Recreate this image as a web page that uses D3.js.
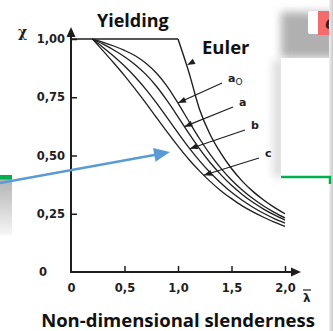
<!DOCTYPE html>
<html>
<head>
<meta charset="utf-8">
<script src="https://cdn.jsdelivr.net/npm/d3@7"></script>
<style>
  html, body { margin: 0; padding: 0; background: #fff; overflow: hidden; }
  svg { display: block; }
</style>
</head>
<body>
<svg id="chart" width="333" height="331"></svg>
<script>
// Buckling reduction factor χ against non-dimensional slenderness λ̄
const slenderness = [0.2, 0.3, 0.4, 0.5, 0.6, 0.7, 0.8, 0.9, 1.0, 1.1, 1.2, 1.3, 1.4, 1.5, 1.6, 1.7, 1.8, 1.9, 2.0];
const curveA0 = [1.000, 0.986, 0.970, 0.951, 0.928, 0.896, 0.853, 0.796, 0.725, 0.648, 0.573, 0.505, 0.446, 0.395, 0.352, 0.315, 0.283, 0.256, 0.232];
const curveA  = [1.000, 0.978, 0.953, 0.924, 0.890, 0.848, 0.796, 0.734, 0.666, 0.596, 0.530, 0.470, 0.418, 0.372, 0.333, 0.299, 0.270, 0.245, 0.223];
const curveB  = [1.000, 0.964, 0.926, 0.884, 0.837, 0.784, 0.725, 0.661, 0.597, 0.535, 0.478, 0.427, 0.382, 0.342, 0.308, 0.278, 0.252, 0.229, 0.210];
const curveC  = [1.000, 0.949, 0.897, 0.843, 0.785, 0.725, 0.662, 0.600, 0.540, 0.484, 0.434, 0.389, 0.349, 0.315, 0.284, 0.258, 0.235, 0.214, 0.196];
const curveNames = ["a0", "a", "b", "c"];

// Euler hyperbola and the yielding plateau
const eulerSlenderness = [1.0, 1.1, 1.2, 1.3, 1.4, 1.5, 1.6, 1.7, 1.8, 1.9, 2.0];
const eulerValues      = [1.000, 0.860, 0.700, 0.590, 0.510, 0.444, 0.390, 0.346, 0.309, 0.277, 0.250];
const yieldSlenderness = [0, 1.0];
const yieldValues      = [1, 1];

// Axis ticks
const xTicks = [0, 0.5, 1.0, 1.5, 2.0];
const xTickLabels = ["0", "0,5", "1,0", "1,5", "2,0"];
const yTicks = [0, 0.25, 0.5, 0.75, 1.0];
const yTickLabels = ["0", "0,25", "0,50", "0,75", "1,00"];

// Slenderness at which each curve's pointer lands
const pointerSlenderness = [1.0, 1.06, 1.11, 1.24];

const svg = d3.select("#chart");
const ink = "#1e1e1e";

// ---------- surrounding slide pieces ----------
const defs = svg.append("defs");
defs.append("filter").attr("id", "soft").attr("x", "-50%").attr("y", "-50%").attr("width", "200%").attr("height", "200%")
  .append("feGaussianBlur").attr("stdDeviation", 4);
const fade = defs.append("linearGradient").attr("id", "fade").attr("x1", 0).attr("y1", 0).attr("x2", 0).attr("y2", 1);
fade.append("stop").attr("offset", 0).attr("stop-color", "#b3b3b3");
fade.append("stop").attr("offset", 1).attr("stop-color", "#f6f6f6");
const edge = defs.append("linearGradient").attr("id", "edge").attr("x1", 0).attr("y1", 0).attr("x2", 1).attr("y2", 0);
edge.append("stop").attr("offset", 0).attr("stop-color", "#f2f2f2");
edge.append("stop").attr("offset", 1).attr("stop-color", "#c8c8c8");

const deco = svg.append("g");
// right-hand panel with shadow
deco.append("rect").attr("x", 281).attr("y", 12).attr("width", 56).attr("height", 46)
  .attr("fill", "#b0b0b0").attr("filter", "url(#soft)");
deco.append("rect").attr("x", 273).attr("y", 60).attr("width", 12).attr("height", 117)
  .attr("fill", "#dcdcdc").attr("filter", "url(#soft)");
deco.append("rect").attr("x", 281).attr("y", 58).attr("width", 52).attr("height", 273).attr("fill", "#fff");
deco.append("rect").attr("x", 308).attr("y", 11).attr("width", 12).attr("height", 23).attr("rx", 2).attr("fill", "#fff");
deco.append("rect").attr("x", 318).attr("y", 11).attr("width", 13).attr("height", 24).attr("fill", "#f36b6b");
deco.append("text").attr("x", 325).attr("y", 29).attr("font-family", "Open Sans, sans-serif")
  .attr("font-style", "italic").attr("font-weight", 700).attr("font-size", 17).attr("fill", "#3a1a1a").text("e");
deco.append("rect").attr("x", 329).attr("y", 0).attr("width", 4).attr("height", 331).attr("fill", "url(#edge)");
deco.append("path").attr("d", "M281,177H330V184").attr("fill", "none").attr("stroke", "#00b050").attr("stroke-width", 2.5);
// left-hand pieces
deco.append("rect").attr("x", 0).attr("y", 179).attr("width", 12).attr("height", 56).attr("fill", "url(#fade)");
deco.append("rect").attr("x", 0).attr("y", 175).attr("width", 12).attr("height", 4.5).attr("fill", "#00b050");

// ---------- chart ----------
const x = d3.scaleLinear().domain([0, 2]).range([71, 285]);
const y = d3.scaleLinear().domain([0, 1]).range([272, 39]);

const line = d3.line().x(d => x(d[0])).y(d => y(d[1])).curve(d3.curveMonotoneX);

// axes
const gx = svg.append("g").attr("transform", `translate(0,${y(0)})`)
  .call(d3.axisBottom(x).tickValues(xTicks).tickSizeInner(-6).tickSizeOuter(0).tickPadding(12)
    .tickFormat((d, i) => xTickLabels[i]));
const gy = svg.append("g").attr("transform", `translate(${x(0)},0)`)
  .call(d3.axisLeft(y).tickValues(yTicks).tickSizeInner(-6).tickSizeOuter(0).tickPadding(6)
    .tickFormat((d, i) => yTickLabels[i]));
[gx, gy].forEach(g => {
  g.select(".domain").remove();
  g.selectAll(".tick line").attr("stroke", ink).attr("stroke-width", 1.5);
  g.selectAll(".tick text").attr("fill", ink).attr("font-family", "DejaVu Sans, sans-serif")
    .attr("font-weight", 700).attr("font-size", 11.5);
});
gx.selectAll(".tick").filter(d => d === 0).select("line").remove();
gy.selectAll(".tick").filter(d => d === 0).select("line").remove();
gy.selectAll(".tick").filter(d => d === 0).select("text").attr("x", -28).attr("text-anchor", "middle");

svg.append("line").attr("x1", x(0)).attr("x2", x(0)).attr("y1", y(0) + 1).attr("y2", 35)
  .attr("stroke", ink).attr("stroke-width", 2);
svg.append("path").attr("d", `M${x(0)},27L${x(0) - 4.5},37L${x(0) + 4.5},37Z`).attr("fill", ink);
svg.append("line").attr("x1", x(0) - 1).attr("x2", 293).attr("y1", y(0)).attr("y2", y(0))
  .attr("stroke", ink).attr("stroke-width", 2);
svg.append("path").attr("d", `M301,${y(0)}L291,${y(0) - 4.5}L291,${y(0) + 4.5}Z`).attr("fill", ink);

// yielding plateau and Euler curve
svg.append("path").datum(d3.zip(yieldSlenderness, yieldValues)).attr("d", line)
  .attr("fill", "none").attr("stroke", ink).attr("stroke-width", 1.6);
svg.append("path").datum(d3.zip(eulerSlenderness, eulerValues)).attr("d", line)
  .attr("fill", "none").attr("stroke", ink).attr("stroke-width", 1.4);

// buckling curves
const series = [curveA0, curveA, curveB, curveC];
const paths = series.map(vals =>
  svg.append("path").datum(d3.zip(slenderness, vals)).attr("d", line)
    .attr("fill", "none").attr("stroke", ink).attr("stroke-width", 1.3).node());

// point on a drawn path at a given horizontal position
function pointAtX(node, px) {
  let lo = 0, hi = node.getTotalLength();
  for (let k = 0; k < 40; k++) {
    const mid = (lo + hi) / 2;
    if (node.getPointAtLength(mid).x < px) lo = mid; else hi = mid;
  }
  return node.getPointAtLength(lo);
}

function arrowHead(tip, from, len, half) {
  const dx = tip.x - from.x, dy = tip.y - from.y, L = Math.hypot(dx, dy);
  const ux = dx / L, uy = dy / L;
  const bx = tip.x - ux * len, by = tip.y - uy * len;
  return `M${tip.x},${tip.y}L${bx - uy * half},${by + ux * half}L${bx + uy * half},${by - ux * half}Z`;
}

// curve labels with pointers
const labelPos = [[228, 82], [239, 106], [251, 129], [265, 157]];
const labelFont = "DejaVu Sans, sans-serif";
curveNames.forEach((name, i) => {
  const tip = pointAtX(paths[i], x(pointerSlenderness[i]));
  const [lx, ly] = labelPos[i];
  const start = { x: lx - 6, y: ly + 1 };
  svg.append("line").attr("x1", start.x).attr("y1", start.y).attr("x2", tip.x).attr("y2", tip.y)
    .attr("stroke", ink).attr("stroke-width", 1.2);
  svg.append("path").attr("d", arrowHead(tip, start, 8, 3)).attr("fill", ink);
  const t = svg.append("text").attr("x", lx).attr("y", ly).attr("font-family", labelFont)
    .attr("font-weight", 700).attr("font-size", 11).attr("fill", ink);
  if (name === "a0") {
    t.append("tspan").text("a");
    t.append("tspan").attr("dy", 3).attr("font-size", 9).attr("font-weight", 400).text("O");
  } else {
    t.text(name);
  }
});

// small pointer on the Euler curve
svg.append("path").attr("d", arrowHead({ x: 187, y: 65 }, { x: 197, y: 60 }, 8, 3)).attr("fill", ink);

// titles
const titleFont = "Open Sans, sans-serif";
svg.append("text").attr("x", 97).attr("y", 27).attr("font-family", titleFont).attr("font-weight", 700)
  .attr("font-size", 18).attr("fill", "#111").text("Yielding");
svg.append("text").attr("x", 202).attr("y", 54).attr("font-family", titleFont).attr("font-weight", 700)
  .attr("font-size", 18.5).attr("fill", "#111").text("Euler");
svg.append("text").attr("x", 178).attr("y", 327).attr("text-anchor", "middle").attr("font-family", titleFont)
  .attr("font-weight", 700).attr("font-size", 18.5).attr("fill", "#111").text("Non-dimensional slenderness");

// axis symbols
svg.append("text").attr("x", 18).attr("y", 37).attr("font-family", "DejaVu Serif, serif").attr("font-weight", 700)
  .attr("font-size", 14).attr("fill", ink).text("χ");
svg.append("text").attr("x", 303).attr("y", 302).attr("font-family", "DejaVu Sans, sans-serif").attr("font-weight", 700)
  .attr("font-size", 12).attr("fill", ink).text("λ");
svg.append("line").attr("x1", 303).attr("x2", 311).attr("y1", 290).attr("y2", 290).attr("stroke", ink).attr("stroke-width", 1.2);

// blue pointer from the left
const blueTip = { x: 170, y: 152 }, blueStart = { x: 0, y: 183 };
svg.append("line").attr("x1", blueStart.x).attr("y1", blueStart.y).attr("x2", 157).attr("y2", 154.5)
  .attr("stroke", "#5b9bd5").attr("stroke-width", 2.5);
svg.append("path").attr("d", arrowHead(blueTip, blueStart, 16, 7)).attr("fill", "#5b9bd5");
</script>
</body>
</html>
